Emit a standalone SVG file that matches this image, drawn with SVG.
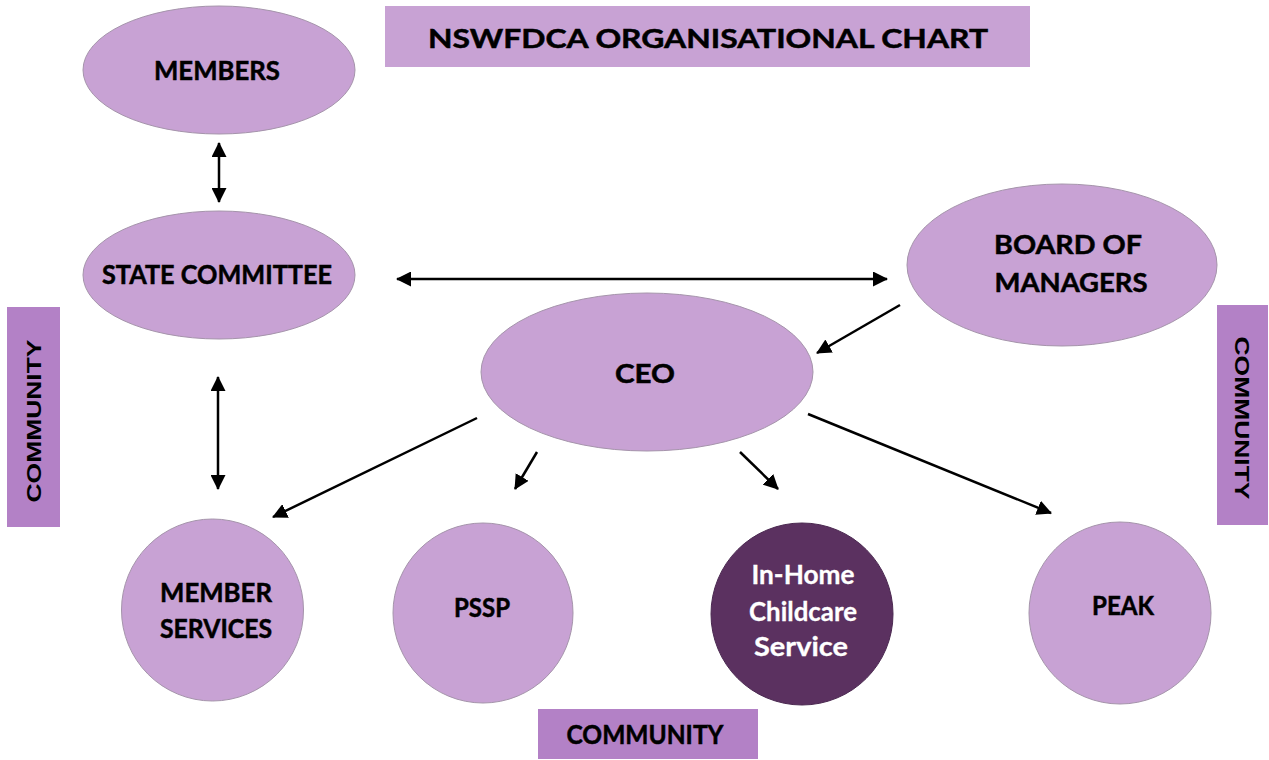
<svg xmlns="http://www.w3.org/2000/svg" width="1269" height="760" viewBox="0 0 1269 760">
  <style>
    .node { fill: #c8a2d4; stroke: #a594ab; stroke-width: 1; }
    .dark { fill: #5b3160; stroke: #4a2850; stroke-width: 1; }
    .band { fill: #b381c6; }
    .lbl { font-family: Lato, "Open Sans", "Liberation Sans", sans-serif; font-weight: bold; font-size: 27px; fill: #000; stroke: #000; stroke-width: 0.5; text-anchor: middle; }
    .lbl-w { fill: #fff; stroke: #fff; stroke-width: 0.3; }
    .side { font-family: "Liberation Sans", Arial, sans-serif; font-weight: bold; font-size: 21px; fill: #000; text-anchor: middle; }
    .conn { stroke: #000; stroke-width: 2.5; fill: none; }
  </style>
  <defs>
    <marker id="arrow" viewBox="0 0 15 15" refX="14" refY="7.5" markerWidth="15" markerHeight="15" markerUnits="userSpaceOnUse" orient="auto-start-reverse">
      <path d="M0,0 L15,7.5 L0,15 z" fill="#000"/>
    </marker>
  </defs>

  <rect width="1269" height="760" fill="#fff"/>

  <!-- heading -->
  <g id="title">
    <rect x="385" y="6" width="645" height="61" fill="#c8a2d4"/>
    <text class="lbl" x="708" y="48" font-size="31" textLength="560" lengthAdjust="spacingAndGlyphs">NSWFDCA ORGANISATIONAL CHART</text>
  </g>

  <!-- community bands -->
  <g id="community-left">
    <rect class="band" x="7" y="307" width="53" height="220"/>
    <text class="side" transform="translate(41 421) rotate(-90)" textLength="163" lengthAdjust="spacingAndGlyphs">COMMUNITY</text>
  </g>
  <g id="community-right">
    <rect class="band" x="1217" y="305" width="51" height="220"/>
    <text class="side" transform="translate(1235 418) rotate(90)" textLength="163" lengthAdjust="spacingAndGlyphs">COMMUNITY</text>
  </g>
  <g id="community-bottom">
    <rect class="band" x="538" y="709" width="220" height="50"/>
    <text class="lbl" x="645" y="744" textLength="157" lengthAdjust="spacingAndGlyphs">COMMUNITY</text>
  </g>

  <!-- connectors -->
  <g id="connectors">
    <line class="conn" x1="219" y1="143" x2="219" y2="202" marker-start="url(#arrow)" marker-end="url(#arrow)"/>
    <line class="conn" x1="397" y1="279" x2="887" y2="279" marker-start="url(#arrow)" marker-end="url(#arrow)"/>
    <line class="conn" x1="218" y1="377" x2="218" y2="489" marker-start="url(#arrow)" marker-end="url(#arrow)"/>
    <line class="conn" x1="900" y1="305" x2="817" y2="353" marker-end="url(#arrow)"/>
    <line class="conn" x1="477" y1="418" x2="273" y2="517" marker-end="url(#arrow)"/>
    <line class="conn" x1="537" y1="452" x2="515" y2="489" marker-end="url(#arrow)"/>
    <line class="conn" x1="740" y1="452" x2="778" y2="489" marker-end="url(#arrow)"/>
    <line class="conn" x1="808" y1="414" x2="1051" y2="513" marker-end="url(#arrow)"/>
  </g>

  <!-- nodes -->
  <g id="members">
    <ellipse class="node" cx="219" cy="70" rx="136" ry="64"/>
    <text class="lbl" x="217" y="80" textLength="126" lengthAdjust="spacingAndGlyphs">MEMBERS</text>
  </g>
  <g id="state-committee">
    <ellipse class="node" cx="219" cy="275" rx="136" ry="64"/>
    <text class="lbl" x="217" y="284" textLength="230" lengthAdjust="spacingAndGlyphs">STATE COMMITTEE</text>
  </g>
  <g id="board">
    <ellipse class="node" cx="1062" cy="265" rx="155" ry="81"/>
    <text class="lbl" x="1068" y="254" textLength="148" lengthAdjust="spacingAndGlyphs">BOARD OF</text>
    <text class="lbl" x="1071" y="292" textLength="153" lengthAdjust="spacingAndGlyphs">MANAGERS</text>
  </g>
  <g id="ceo">
    <ellipse class="node" cx="647" cy="372" rx="166" ry="79"/>
    <text class="lbl" x="645" y="383" font-size="35" textLength="60" lengthAdjust="spacingAndGlyphs">CEO</text>
  </g>
  <g id="member-services">
    <circle class="node" cx="212.5" cy="610" r="91"/>
    <text class="lbl" x="216" y="602" textLength="112" lengthAdjust="spacingAndGlyphs">MEMBER</text>
    <text class="lbl" x="216" y="638" textLength="112" lengthAdjust="spacingAndGlyphs">SERVICES</text>
  </g>
  <g id="pssp">
    <circle class="node" cx="483" cy="613" r="90"/>
    <text class="lbl" x="482" y="617" textLength="56" lengthAdjust="spacingAndGlyphs">PSSP</text>
  </g>
  <g id="in-home">
    <circle class="dark" cx="802" cy="614" r="91"/>
    <text class="lbl lbl-w" x="803" y="584" textLength="103" lengthAdjust="spacingAndGlyphs">In-Home</text>
    <text class="lbl lbl-w" x="803" y="621" textLength="108" lengthAdjust="spacingAndGlyphs">Childcare</text>
    <text class="lbl lbl-w" x="801" y="656" textLength="94" lengthAdjust="spacingAndGlyphs">Service</text>
  </g>
  <g id="peak">
    <circle class="node" cx="1120" cy="613" r="91"/>
    <text class="lbl" x="1123" y="615" textLength="62" lengthAdjust="spacingAndGlyphs">PEAK</text>
  </g>
</svg>
